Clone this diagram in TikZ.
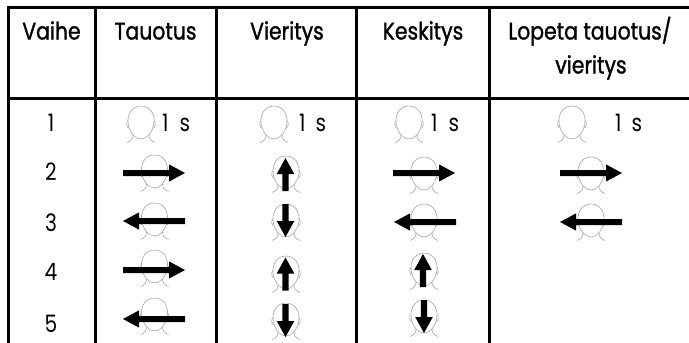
\documentclass[tikz,border=0pt]{standalone}
\usepackage{fontspec}
\setmainfont{Poppins}[FakeStretch=0.84]
\newfontfamily\headfont{Poppins}[FakeStretch=0.85,FakeBold=1.2]
\tikzset{
  x=1pt,y=-1pt,
  rule/.style={line width=3pt,black},
  txt/.style={font=\fontsize{24}{28}\selectfont,text=black,inner sep=0pt},
  headtxt/.style={font=\headfont\fontsize{24}{28}\selectfont,text=black,inner sep=0pt,anchor=base},
  facefine/.style={line width=0.55pt,draw=black!38},
  face/.pic={
    \draw[facefine,fill=white] (0,33) .. controls (-6,33) and (-11,27) .. (-12.8,18)
      .. controls (-14.5,7) and (-8,0) .. (0,0)
      .. controls (8,0) and (14.5,7) .. (12.8,18)
      .. controls (11,27) and (6,33) .. (0,33);
    \draw[facefine] (-13,15) .. controls (-15,16) and (-14.5,21) .. (-12.6,22);
    \draw[facefine] (13,15) .. controls (15,16) and (14.5,21) .. (12.6,22);
    \draw[facefine] (-8,29) .. controls (-8,33) and (-10,35) .. (-14,36.5);
    \draw[facefine] (8,29) .. controls (8,33) and (10,35) .. (14,36.5);
  },
  rightarr/.pic={\fill[black] (-31,-3) -- (15,-3) -- (15,-8.6) -- (31,0) -- (15,8.6) -- (15,3) -- (-31,3) -- cycle;},
  leftarr/.pic={\fill[black] (31,-3) -- (-15,-3) -- (-15,-8.6) -- (-31,0) -- (-15,8.6) -- (-15,3) -- (31,3) -- cycle;},
  uparr/.pic={\fill[black] (-3.1,16.5) -- (-3.1,-0.5) -- (-8.8,-0.5) -- (0,-16.5) -- (8.8,-0.5) -- (3.1,-0.5) -- (3.1,16.5) -- cycle;},
  downarr/.pic={\fill[black] (-3.1,-16.5) -- (-3.1,0.5) -- (-8.8,0.5) -- (0,16.5) -- (8.8,0.5) -- (3.1,0.5) -- (3.1,-16.5) -- cycle;},
}
\begin{document}
\begin{tikzpicture}
\useasboundingbox (0,0) rectangle (689,343);
% rules
\coordinate (tr) at (689,7.3);
\coordinate (ml) at (8.3,98.3); \coordinate (mr) at (689,98.3);
\draw[rule] (7,7.3) -- (tr);
\draw[rule] (ml) -- (mr);
\foreach \x in {8.3,95.7,216.7,356.7,489.3} \draw[rule] (\x,7) -- (\x,343);
% headers
\node[headtxt] (h1) at (51.5,39.5) {Vaihe};
\node[headtxt] (h2) at (155.5,39.5) {Tauotus};
\node[headtxt] (h3) at (287,39.5) {Vieritys};
\node[headtxt] (h4) at (423,39.5) {Keskitys};
\node[headtxt] (h5a) at (590,39.5) {Lopeta tauotus/};
\node[headtxt] (h5b) at (591,73.5) {vieritys};
% step numbers
\node[txt] (n1) at (51,123) {1};
\node[txt] (n2) at (51,172) {2};
\node[txt] (n3) at (51,223) {3};
\node[txt] (n4) at (51,272) {4};
\node[txt] (n5) at (51,324) {5};
% row 1
\pic at (141,106) {face};
\pic at (274,106) {face};
\pic at (409,106) {face};
\pic at (572,106) {face};
\node[txt,anchor=west] (s1) at (162,123) {1\hspace{11pt}s};
\node[txt,anchor=west] (s2) at (299,123) {1\hspace{10pt}s};
\node[txt,anchor=west] (s3) at (431,123) {1\hspace{11pt}s};
\node[txt,anchor=west] (s4) at (615,123) {1\hspace{10pt}s};
% Tauotus
\pic at (154.5,155) {face}; \pic at (154,173) {rightarr};
\pic at (154.5,203) {face}; \pic at (154,221) {leftarr};
\pic at (154.5,250) {face}; \pic at (154,270) {rightarr};
\pic at (154.5,298) {face}; \pic at (154,319) {leftarr};
% Vieritys
\pic at (286,156) {face}; \pic at (285.5,174.5) {uparr};
\pic at (286,204) {face}; \pic at (285.5,220.5) {downarr};
\pic at (286,256) {face}; \pic at (285.5,274) {uparr};
\pic at (286,303) {face}; \pic at (285.5,320.5) {downarr};
% Keskitys
\pic at (424,157) {face}; \pic at (424,173) {rightarr};
\pic at (424,204) {face}; \pic at (425,222) {leftarr};
\pic at (424,253) {face}; \pic at (423,270.5) {uparr};
\pic at (424,300) {face}; \pic at (424,316.5) {downarr};
% Lopeta
\pic at (591,157) {face}; \pic at (591,173) {rightarr};
\pic at (591,204) {face}; \pic at (591,222) {leftarr};
\end{tikzpicture}
\end{document}
